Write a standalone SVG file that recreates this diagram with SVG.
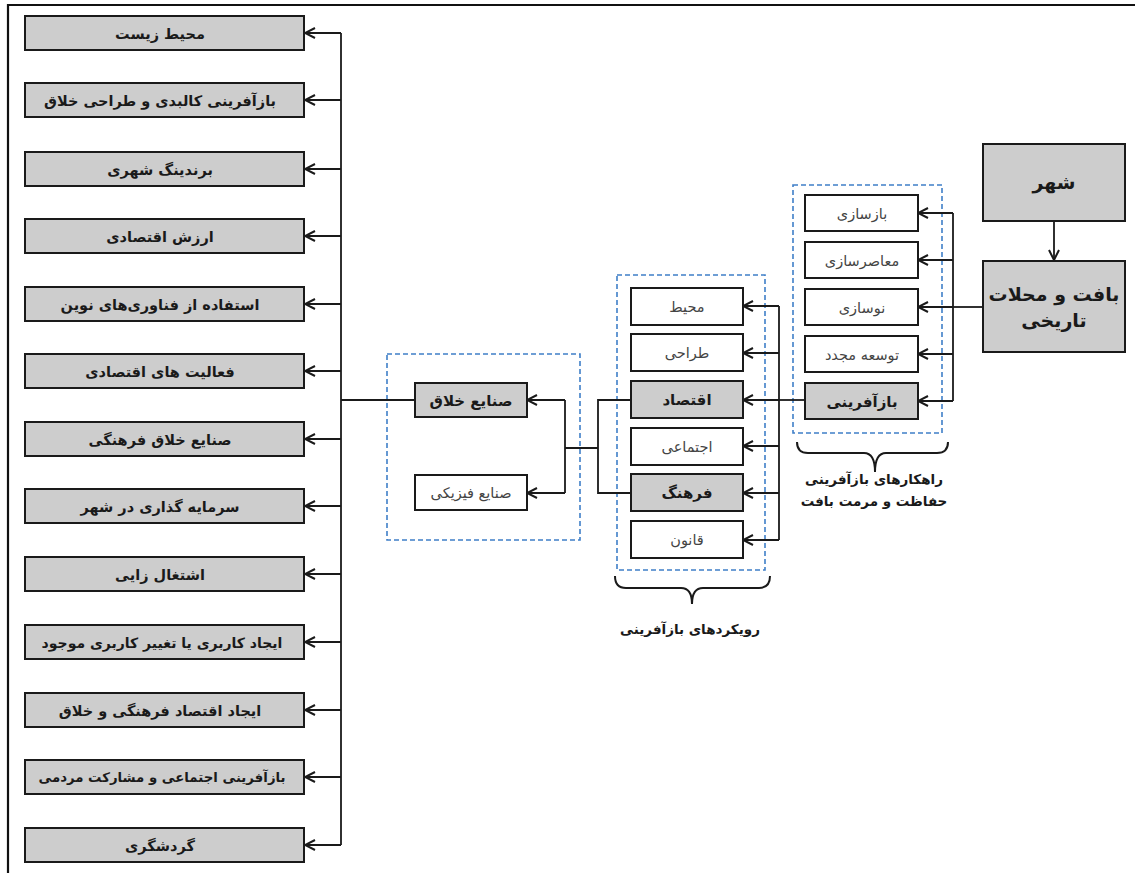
<svg xmlns="http://www.w3.org/2000/svg" width="1135" height="873" viewBox="0 0 1135 873">
<defs>
<style>
.frame{stroke:#111;stroke-width:2.2;fill:none}
.g{fill:#cdcdcd;stroke:#1a1a1a;stroke-width:2}
.w{fill:#fff;stroke:#1a1a1a;stroke-width:2}
.dash{fill:none;stroke:#3f7fc8;stroke-width:1.6;stroke-dasharray:5 3}
.ln{fill:none;stroke:#1a1a1a;stroke-width:1.8}
.arr{marker-end:url(#ah)}
.tb{font-family:"DejaVu Sans",sans-serif;font-weight:bold;font-size:14.5px;fill:#1a1a1a;text-anchor:middle;direction:rtl}
.tm{font-family:"DejaVu Sans",sans-serif;font-weight:bold;font-size:15px;fill:#1a1a1a;text-anchor:middle;direction:rtl}
.tn{font-family:"DejaVu Sans",sans-serif;font-size:14.5px;fill:#444;text-anchor:middle;direction:rtl}
.tl{font-family:"DejaVu Sans",sans-serif;font-weight:bold;font-size:19px;fill:#1a1a1a;text-anchor:middle;direction:rtl}
.tc{font-family:"DejaVu Sans",sans-serif;font-weight:bold;font-size:13.5px;fill:#1a1a1a;text-anchor:middle;direction:rtl}
.br{fill:none;stroke:#1a1a1a;stroke-width:2}
</style>
<marker id="ah" viewBox="0 0 12 12" refX="11" refY="6" markerWidth="12" markerHeight="12" markerUnits="userSpaceOnUse" orient="auto">
<path d="M1,1 L11,6 L1,11" fill="none" stroke="#1a1a1a" stroke-width="2"/>
</marker>
</defs>
<rect width="1135" height="873" fill="#fff"/>
<path class="frame" d="M8,873 L8,5 L1135,5"/>

<g id="dashed-groups">
<rect class="dash" x="387" y="354" width="193" height="186"/>
<rect class="dash" x="617" y="275" width="148" height="295"/>
<rect class="dash" x="793" y="185" width="149" height="248"/>
</g>

<g id="connectors">
<path class="ln" d="M341,33 L341,845"/>
<path class="ln arr" d="M341,33 L305,33"/>
<path class="ln arr" d="M341,100 L305,100"/>
<path class="ln arr" d="M341,169 L305,169"/>
<path class="ln arr" d="M341,236 L305,236"/>
<path class="ln arr" d="M341,304 L305,304"/>
<path class="ln arr" d="M341,371 L305,371"/>
<path class="ln arr" d="M341,439 L305,439"/>
<path class="ln arr" d="M341,506 L305,506"/>
<path class="ln arr" d="M341,574 L305,574"/>
<path class="ln arr" d="M341,642 L305,642"/>
<path class="ln arr" d="M341,710 L305,710"/>
<path class="ln arr" d="M341,777 L305,777"/>
<path class="ln arr" d="M341,845 L305,845"/>
<path class="ln" d="M341,400 L415,400"/>
<path class="ln" d="M631,400 L598,400 L598,493 L631,493"/>
<path class="ln" d="M598,448 L565,448"/>
<path class="ln" d="M565,400 L565,493"/>
<path class="ln arr" d="M565,400 L527,400"/>
<path class="ln arr" d="M565,493 L527,493"/>
<path class="ln" d="M779,306 L779,540"/>
<path class="ln" d="M805,400 L779,400"/>
<path class="ln arr" d="M779,306 L743,306"/>
<path class="ln arr" d="M779,353 L743,353"/>
<path class="ln arr" d="M779,400 L743,400"/>
<path class="ln arr" d="M779,446 L743,446"/>
<path class="ln arr" d="M779,493 L743,493"/>
<path class="ln arr" d="M779,540 L743,540"/>
<path class="ln" d="M953,213 L953,401"/>
<path class="ln" d="M983,307 L953,307"/>
<path class="ln arr" d="M953,213 L918,213"/>
<path class="ln arr" d="M953,260 L918,260"/>
<path class="ln arr" d="M953,307 L918,307"/>
<path class="ln arr" d="M953,354 L918,354"/>
<path class="ln arr" d="M953,401 L918,401"/>
<path class="ln arr" d="M1054,221 L1054,260"/>
</g>

<g id="left-1"><rect class="g" x="25" y="16" width="279" height="34"/><text class="tb" x="160" y="38.5">محیط زیست</text></g>
<g id="left-2"><rect class="g" x="25" y="83" width="279" height="34"/><text class="tb" x="160" y="105.5">بازآفرینی کالبدی و طراحی خلاق</text></g>
<g id="left-3"><rect class="g" x="25" y="152" width="279" height="34"/><text class="tb" x="160" y="174.5">برندینگ شهری</text></g>
<g id="left-4"><rect class="g" x="25" y="219" width="279" height="34"/><text class="tb" x="160" y="241.5">ارزش اقتصادی</text></g>
<g id="left-5"><rect class="g" x="25" y="287" width="279" height="34"/><text class="tb" x="160" y="309.5">استفاده از فناوری‌های نوین</text></g>
<g id="left-6"><rect class="g" x="25" y="354" width="279" height="34"/><text class="tb" x="160" y="376.5">فعالیت های اقتصادی</text></g>
<g id="left-7"><rect class="g" x="25" y="422" width="279" height="34"/><text class="tb" x="160" y="444.5">صنایع خلاق فرهنگی</text></g>
<g id="left-8"><rect class="g" x="25" y="489" width="279" height="34"/><text class="tb" x="160" y="511.5">سرمایه گذاری در شهر</text></g>
<g id="left-9"><rect class="g" x="25" y="557" width="279" height="34"/><text class="tb" x="160" y="579.5">اشتغال زایی</text></g>
<g id="left-10"><rect class="g" x="25" y="625" width="279" height="34"/><text class="tb" x="162" y="647.5" style="font-size:14px">ایجاد کاربری یا تغییر کاربری موجود</text></g>
<g id="left-11"><rect class="g" x="25" y="693" width="279" height="34"/><text class="tb" x="160" y="715.5">ایجاد اقتصاد فرهنگی و خلاق</text></g>
<g id="left-12"><rect class="g" x="25" y="760" width="279" height="34"/><text class="tb" x="162" y="782" style="font-size:13.3px">بازآفرینی اجتماعی و مشارکت مردمی</text></g>
<g id="left-13"><rect class="g" x="25" y="828" width="279" height="34"/><text class="tb" x="160" y="850.5">گردشگری</text></g>

<g id="creative"><rect class="g" x="415" y="383" width="112" height="34"/><text class="tm" x="471" y="405.5">صنایع خلاق</text></g>
<g id="physical"><rect class="w" x="415" y="475" width="112" height="35"/><text class="tn" x="471" y="498">صنایع فیزیکی</text></g>

<g id="m-env"><rect class="w" x="631" y="288" width="112" height="37"/><text class="tn" x="687" y="312">محیط</text></g>
<g id="m-design"><rect class="w" x="631" y="334" width="112" height="37"/><text class="tn" x="687" y="358">طراحی</text></g>
<g id="m-econ"><rect class="g" x="631" y="381" width="112" height="37"/><text class="tm" x="687" y="405">اقتصاد</text></g>
<g id="m-social"><rect class="w" x="631" y="428" width="112" height="37"/><text class="tn" x="687" y="452">اجتماعی</text></g>
<g id="m-culture"><rect class="g" x="631" y="474" width="112" height="37"/><text class="tm" x="687" y="498">فرهنگ</text></g>
<g id="m-law"><rect class="w" x="631" y="521" width="112" height="37"/><text class="tn" x="687" y="545">قانون</text></g>

<g id="r-1"><rect class="w" x="805" y="195" width="113" height="36"/><text class="tn" x="862" y="219">بازسازی</text></g>
<g id="r-2"><rect class="w" x="805" y="242" width="113" height="36"/><text class="tn" x="862" y="266">معاصرسازی</text></g>
<g id="r-3"><rect class="w" x="805" y="289" width="113" height="36"/><text class="tn" x="862" y="313">نوسازی</text></g>
<g id="r-4"><rect class="w" x="805" y="336" width="113" height="36"/><text class="tn" x="862" y="360">توسعه مجدد</text></g>
<g id="r-5"><rect class="g" x="805" y="383" width="113" height="36"/><text class="tm" x="862" y="407">بازآفرینی</text></g>

<g id="city"><rect class="g" x="983" y="144" width="142" height="77"/><text class="tl" x="1054" y="189">شهر</text></g>
<g id="fabric"><rect class="g" x="983" y="261" width="142" height="91"/><text class="tl" x="1054" y="301">بافت و محلات</text><text class="tl" x="1054" y="327">تاریخی</text></g>

<g id="brace-right">
<path class="br" d="M797,442 Q797,453 808,453 L864,453 Q875,453 875,472 Q875,453 886,453 L937,453 Q948,453 948,442"/>
<text class="tc" x="874" y="484">راهکارهای بازآفرینی</text>
<text class="tc" x="874" y="506">حفاظت و مرمت بافت</text>
</g>
<g id="brace-middle">
<path class="br" d="M615,576 Q615,588 626,588 L681,588 Q692,588 692,604 Q692,588 703,588 L759,588 Q770,588 770,576"/>
<text class="tc" x="690" y="634">رویکردهای بازآفرینی</text>
</g>
</svg>
